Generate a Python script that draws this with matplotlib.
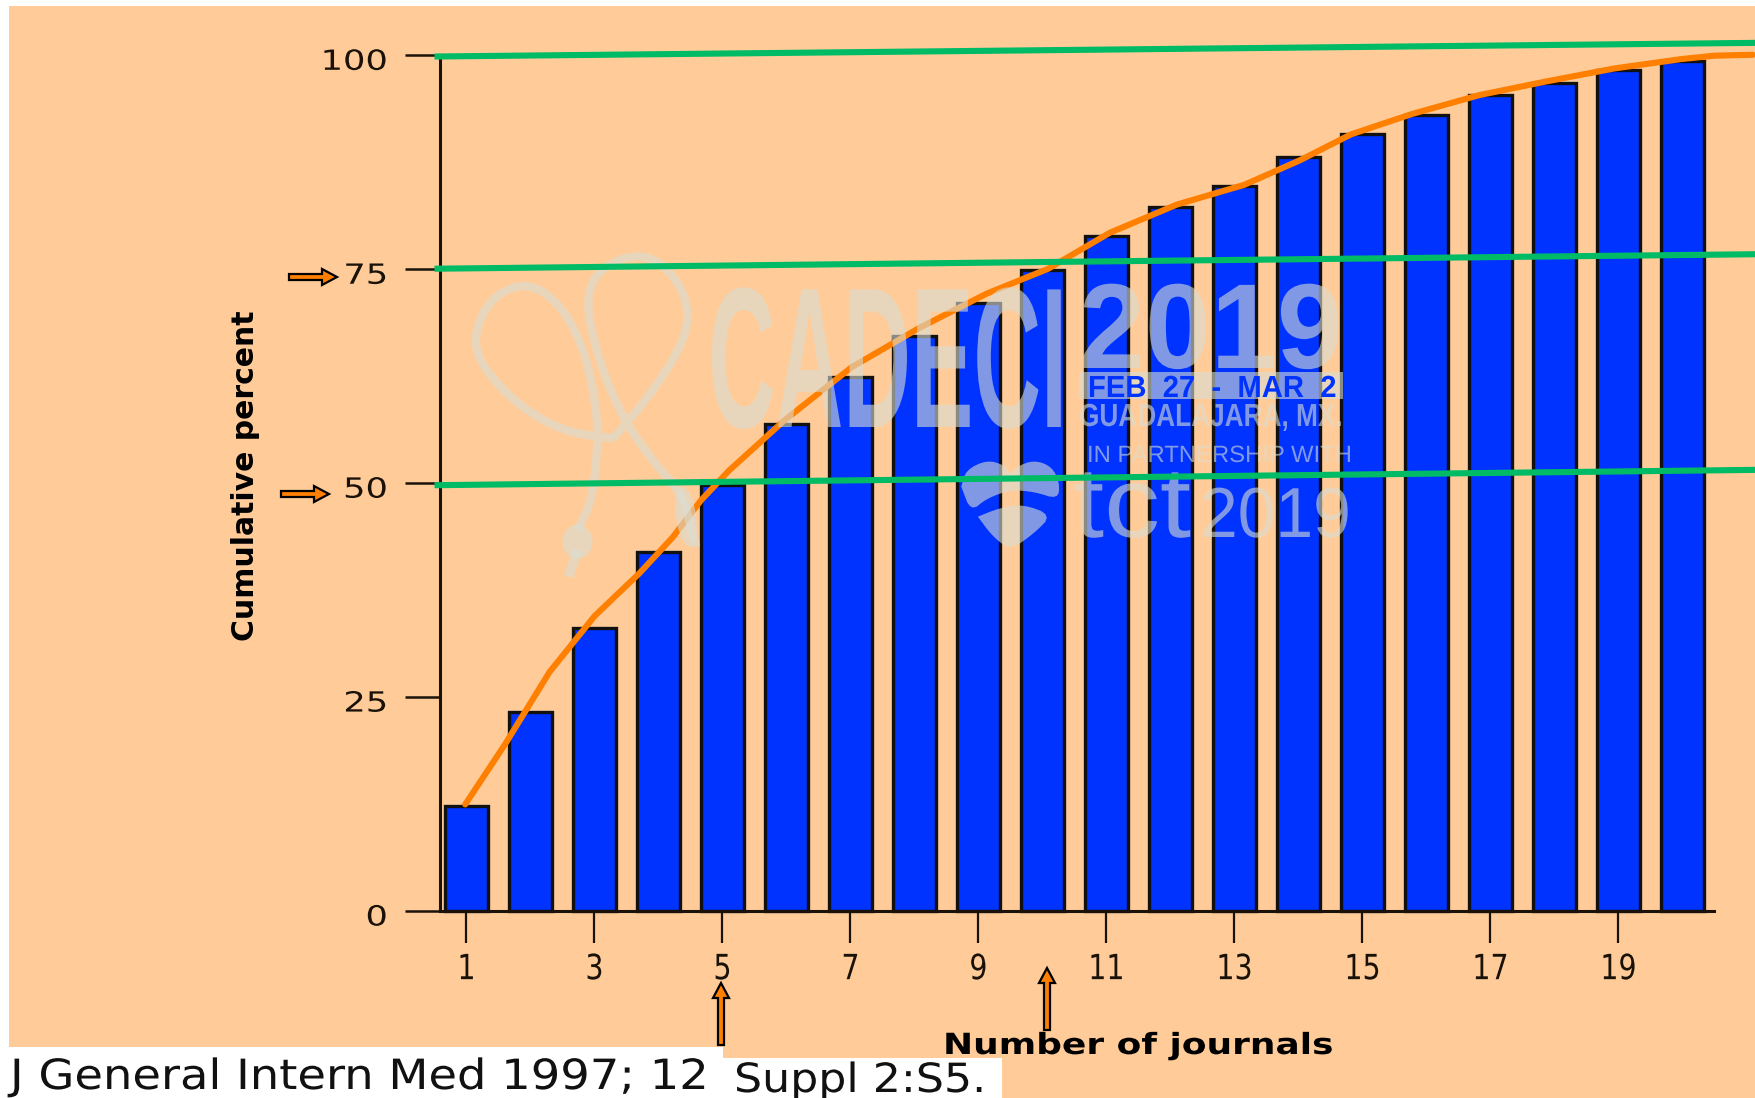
import matplotlib
matplotlib.use('Agg')
import matplotlib.pyplot as plt
import numpy as np
from matplotlib.patches import Polygon, PathPatch, FancyArrow, Ellipse, Rectangle
from matplotlib.path import Path
from matplotlib.patheffects import AbstractPathEffect
from matplotlib.transforms import Affine2D, ScaledTranslation

W, H = 1756, 1098

# values
journals = list(range(1, 21))
cumulative = [12.2, 23.2, 33.0, 41.9, 49.7, 56.8, 62.3, 67.1, 71.0, 74.9,
              78.8, 82.2, 84.7, 88.0, 90.8, 93.0, 95.3, 96.7, 98.2, 99.3]
curve_x = [0.98, 1.6, 2.3, 3.0, 3.7, 4.22, 4.66, 5.1, 5.97, 7.02, 8.08, 9.13,
           10.09, 11.05, 12.1, 13.15, 14.03, 14.82, 15.78, 16.83, 17.88, 18.93, 19.98, 20.5, 21.1]
curve_y = [12.4, 19.4, 27.9, 34.4, 39.4, 43.6, 47.9, 51.4, 57.3, 63.5, 68.1, 72.1,
           75.0, 79.2, 82.5, 84.8, 87.7, 90.7, 93.1, 95.3, 96.9, 98.4, 99.5, 99.9, 100.0]
green_start = [99.8, 75, 49.7]
green_end = [101.4, 76.7, 51.5]
x_ticks = [1, 3, 5, 7, 9, 11, 13, 15, 17, 19]
y_ticks = [0, 25, 50, 75, 100]

PEACH = '#FFCC99'
BLUE = '#0033FF'
ORANGE = '#FF7F00'
GREEN = '#00BB66'
MARK = '#D9DDD5'


class Stretch(AbstractPathEffect):
    # scales glyphs sideways, there is no condensed font installed
    def __init__(self, sx, anchor='left'):
        super().__init__()
        self.sx = sx
        self.anchor = anchor

    def draw_path(self, renderer, gc, tpath, affine, rgbFace=None):
        box = tpath.get_extents()
        x = {'left': 0, 'right': box.x1, 'center': (box.x0 + box.x1) / 2}[self.anchor]
        scale = Affine2D().translate(-x, 0).scale(self.sx, 1).translate(x, 0)
        renderer.draw_path(gc, tpath, scale + affine, rgbFace)


fig = plt.figure(figsize=(W / 100, H / 100), dpi=100, facecolor='white')
ax = fig.add_axes([0, 0, 1, 1], facecolor='none')
px = Affine2D().scale(1, -1).translate(0, H)  # top-left pixel coordinates

# axis calibration, in reference pixels
x_one, x_step = 466.5, 64.0
y_zero, y_unit = 910.5, 8.557
ax.set_xlim(1 - x_one / x_step, 1 + (W - x_one) / x_step)
ax.set_ylim(-(H - y_zero) / y_unit, y_zero / y_unit)

ax.add_patch(Polygon([(9, 6), (W, 6), (W, H), (1002, H), (1002, 1058), (723, 1058), (723, 1047), (9, 1047)],
                     closed=True, fc=PEACH, ec='none', transform=px, zorder=0))

ax.bar(journals, cumulative, width=0.66, color=BLUE, edgecolor='#111111', linewidth=2.4, zorder=2)
ax.plot(curve_x, curve_y, color=ORANGE, lw=4.4, zorder=3, solid_capstyle='round', solid_joinstyle='round')

for sp in ['top', 'right']:
    ax.spines[sp].set_visible(False)
ax.spines['left'].set_position(('data', 0.59))
ax.spines['left'].set_bounds(0, 100)
ax.spines['bottom'].set_position(('data', 0))
ax.spines['bottom'].set_bounds(0.59, 20.5)
for sp in ['left', 'bottom']:
    ax.spines[sp].set_linewidth(2.2)
    ax.spines[sp].set_color('#1a1208')
    ax.spines[sp].set_zorder(4)
ax.set_xticks(x_ticks)
ax.set_yticks(y_ticks)
ax.tick_params(axis='x', length=23, width=1.6, color='#1a1208', pad=7, labelsize=25, labelcolor='#1a1208')
ax.tick_params(axis='y', length=25, width=1.8, color='#1a1208', pad=13, labelsize=20, labelcolor='#1a1208')
for lab in ax.get_yticklabels():
    lab.set_transform(lab.get_transform() + ScaledTranslation(0, -4 / 100, fig.dpi_scale_trans))
    lab.set_path_effects([Stretch(1.27, 'right')])
for lab in ax.get_xticklabels():
    lab.set_path_effects([Stretch(0.82, 'center')])


def smooth(points, rounds=3):
    pts = np.array(points, dtype=float)
    for _ in range(rounds):
        a = pts[:-1] * 0.75 + pts[1:] * 0.25
        b = pts[:-1] * 0.25 + pts[1:] * 0.75
        pts = np.vstack([pts[:1], np.column_stack([a, b]).reshape(-1, 2), pts[-1:]])
    return pts


def crop(points):
    # positions taken from a zoomed crop of the logo
    return [(450 + X / 1.686, 240 + Y / 3) for X, Y in points]


def fit_text(s, x0, x1, base, size, color=MARK, alpha=0.6, weight='normal', z=5, family='Liberation Sans'):
    t = ax.text(x0, base, s, transform=px, fontsize=size, color=color, alpha=alpha, fontweight=weight,
                family=family, ha='left', va='baseline', zorder=z)
    width = t.get_window_extent(fig.canvas.get_renderer()).width
    t.set_path_effects([Stretch((x1 - x0) / width)])
    return t


# watermark, sits over the curve and under the green lines
left_loop = [(275, 595), (190, 575), (110, 490), (50, 370), (40, 280), (70, 170), (130, 125), (185, 190),
             (225, 320), (245, 480), (250, 600), (240, 780), (215, 870)]
right_loop = [(275, 595), (340, 460), (400, 290), (400, 170), (360, 70), (310, 40), (250, 90), (230, 170),
              (240, 290), (265, 430), (300, 560), (350, 680), (390, 760), (405, 850), (415, 920)]
for loop in [left_loop, right_loop]:
    ax.add_patch(PathPatch(Path(smooth(crop(loop))), fc='none', ec=MARK, lw=6, alpha=0.6, transform=px, zorder=5))
ax.add_patch(Ellipse(crop([(215, 905)])[0], 30, 34, fc=MARK, ec='none', alpha=0.6, transform=px, zorder=5))
ax.add_patch(PathPatch(Path(crop([(215, 930), (200, 1010)])), fc='none', ec=MARK, lw=7, alpha=0.6, transform=px, zorder=5))
ax.add_patch(Ellipse(crop([(398, 830)])[0], 20, 60, angle=-8, fc=MARK, ec='none', alpha=0.6, transform=px, zorder=5))

fit_text('CADECI', 708, 1067, 427, 144, weight='bold')
fit_text('2019', 1079, 1343, 368, 87, weight='bold')
ax.add_patch(Rectangle((1079, 372), 264, 27, fc=MARK, ec='none', alpha=0.6, transform=px, zorder=5))
fit_text('FEB  27  -  MAR  2', 1088, 1336, 397, 22, color=BLUE, alpha=1, weight='bold', z=6)
fit_text('GUADALAJARA, MX.', 1079, 1343, 426, 23, weight='bold')
fit_text('IN PARTNERSHIP WITH', 1087, 1351, 462, 17)
fit_text('tct', 1073, 1191, 537, 72)
fit_text('2019', 1200, 1351, 537, 51)
heart_top = [(862, 740), (870, 690), (905, 660), (935, 675), (945, 705), (955, 680), (985, 660), (1015, 680),
             (1028, 730), (1025, 778), (985, 755), (945, 750), (905, 775), (878, 815), (862, 740)]
heart_low = [(890, 830), (925, 805), (965, 792), (1015, 825), (985, 880), (945, 930), (915, 890), (890, 830)]
for shape in [heart_top, heart_low]:
    ax.add_patch(Polygon(smooth(crop(shape), 2), closed=True, fc=MARK, ec='none', alpha=0.6, transform=px, zorder=5))

for a, b in zip(green_start, green_end):
    ax.plot([0.5, 21.2], [a, b], color=GREEN, lw=4.4, zorder=7, solid_capstyle='butt')

# hand-placed arrows
arrows = [(289, 277, 48, 0), (281, 494, 48, 0), (721, 1045, 0, -62), (1047, 1030, 0, -62)]
for x, y, dx, dy in arrows:
    ax.add_patch(FancyArrow(x, y, dx, dy, width=6, head_width=16, head_length=15, length_includes_head=True,
                            fc=ORANGE, ec='black', lw=1.6, transform=px, zorder=8))

ax.text(246, 476, 'Cumulative percent', transform=px, rotation=90, ha='center', va='center',
        fontsize=21.5, fontweight='bold', color='black', zorder=8)
fit_text('Number of journals', 943, 1333, 1054, 21, color='black', alpha=1, weight='bold', z=8, family='DejaVu Sans')
fit_text('J General Intern Med 1997; 12', 10, 708, 1089, 30, color='#111111', alpha=1, z=8, family='DejaVu Sans')
fit_text('Suppl 2:S5.', 734, 986, 1092, 29, color='#111111', alpha=1, z=8, family='DejaVu Sans')

fig.savefig('out.png', dpi=100)
